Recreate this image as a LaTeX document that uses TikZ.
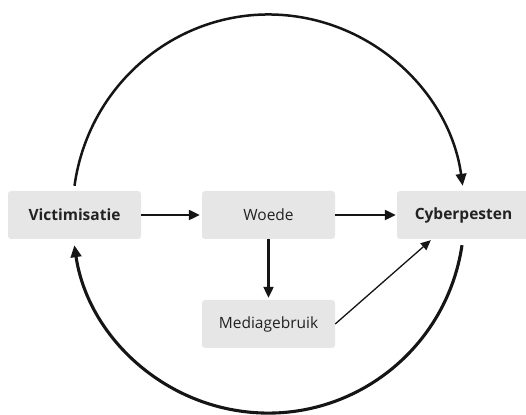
\documentclass[tikz,border=0pt]{standalone}
\usepackage{fontspec}
\setmainfont{Open Sans}
\usetikzlibrary{arrows.meta,calc}
\definecolor{boxgray}{HTML}{E6E6E6}
\definecolor{txt}{HTML}{222222}
\definecolor{ln}{HTML}{151515}
\begin{document}
\begin{tikzpicture}[x=1pt,y=1pt,
  box/.style={rectangle, rounded corners=3pt, fill=boxgray, minimum width=133pt, minimum height=48pt, inner sep=0pt, text=txt, font=\fontsize{15.5}{17}\selectfont},
  bold/.style={font=\fontsize{15.5}{17}\selectfont\bfseries},
  conn/.style={draw=ln, line width=2.2pt, -{Triangle[length=11pt,width=10pt]}},
  thinconn/.style={draw=ln, line width=1.3pt, -{Triangle[length=10pt,width=9pt]}},
  arcconn/.style={draw=ln, line width=2.5pt, -{Triangle[length=12pt,width=10.5pt]}},
  arcconnb/.style={draw=ln, line width=3.1pt, -{Triangle[length=12pt,width=10.5pt]}}
]
\useasboundingbox (0,0) rectangle (526,414);
\clip (0,0) rectangle (526,414);
\node[box,bold] (vic) at (74.5,199) {Victimisatie};
\node[box] (woe) at (268.5,199) {Woede};
\node[box,bold] (cyb) at (463.5,199) {Cyberpesten};
\node[box] (med) at (268.5,90) {Mediagebruik};

\draw[conn] (vic.east) -- ([xshift=-2pt]woe.west);
\draw[conn] (woe.east) -- ([xshift=-1pt]cyb.west);
\draw[conn] (woe.south) -- ([yshift=2pt]med.north);
\draw[thinconn] (med.east) -- ($(cyb.south west)+(34,-1)$);

\coordinate (ts) at ($(vic.north)+(0,5)$);
\coordinate (bs) at ($(cyb.south)+(-1.5,-6)$);
\draw[arcconn] (ts) arc[start angle=172, end angle=8, x radius=196, y radius=199];
\draw[arcconnb] (bs) arc[start angle=-8.5, end angle=-171.5, x radius=196, y radius=197];
\end{tikzpicture}
\end{document}
